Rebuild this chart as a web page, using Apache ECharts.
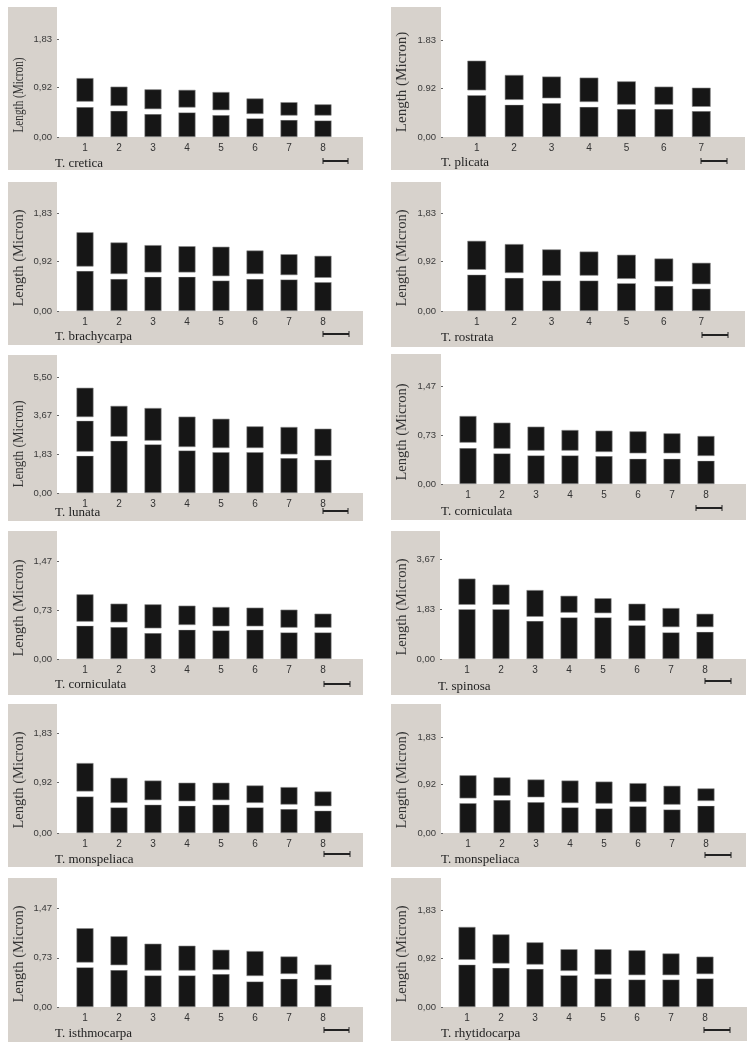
<!DOCTYPE html>
<html><head><meta charset="utf-8">
<script src="https://cdn.jsdelivr.net/npm/echarts@6/dist/echarts.min.js"></script>
<style>html,body{margin:0;padding:0;background:#fff}#c{width:756px;height:1052px}</style>
</head><body><div id="c"></div>
<script>
// Each chromosome: boundaries of its segments from the base upward
// [top of lower arm, bottom of upper arm, top of chromosome] (lunata #1 has a second constriction)
const cretica      = [[0.56,0.66,1.10],[0.49,0.58,0.94],[0.43,0.52,0.89],[0.46,0.55,0.88],[0.41,0.50,0.84],[0.35,0.43,0.72],[0.32,0.40,0.65],[0.31,0.40,0.61]];
const plicata      = [[0.79,0.88,1.44],[0.61,0.70,1.17],[0.64,0.73,1.14],[0.57,0.66,1.12],[0.53,0.61,1.05],[0.53,0.61,0.95],[0.49,0.57,0.93]];
const brachycarpa  = [[0.75,0.83,1.47],[0.60,0.69,1.28],[0.64,0.72,1.23],[0.64,0.72,1.21],[0.57,0.65,1.20],[0.60,0.69,1.13],[0.59,0.67,1.06],[0.54,0.62,1.03]];
const rostrata     = [[0.68,0.77,1.31],[0.62,0.71,1.25],[0.57,0.66,1.15],[0.57,0.66,1.11],[0.52,0.60,1.05],[0.47,0.55,0.98],[0.42,0.50,0.90]];
const lunata       = [[1.77,1.96,3.43,3.60,4.99],[2.48,2.67,4.13],[2.31,2.48,4.03],[2.02,2.18,3.62],[1.94,2.13,3.52],[1.94,2.13,3.16],[1.66,1.83,3.13],[1.58,1.75,3.05]];
const corniculataA = [[0.54,0.62,1.02],[0.46,0.53,0.92],[0.43,0.50,0.86],[0.43,0.50,0.81],[0.42,0.48,0.80],[0.38,0.46,0.79],[0.38,0.46,0.76],[0.35,0.42,0.72]];
const corniculataB = [[0.50,0.56,0.97],[0.48,0.55,0.83],[0.39,0.46,0.82],[0.44,0.51,0.80],[0.43,0.49,0.78],[0.44,0.49,0.77],[0.40,0.47,0.74],[0.40,0.47,0.68]];
const spinosa      = [[1.83,1.99,2.95],[1.83,1.99,2.73],[1.40,1.55,2.53],[1.53,1.70,2.32],[1.53,1.68,2.23],[1.24,1.40,2.03],[0.98,1.17,1.87],[1.00,1.17,1.66]];
const monspeliacaA = [[0.67,0.76,1.28],[0.47,0.55,1.01],[0.52,0.60,0.96],[0.50,0.58,0.92],[0.52,0.60,0.92],[0.47,0.55,0.87],[0.44,0.52,0.84],[0.41,0.49,0.76]];
const monspeliacaB = [[0.57,0.66,1.10],[0.63,0.71,1.06],[0.59,0.68,1.02],[0.49,0.57,1.00],[0.47,0.56,0.98],[0.51,0.59,0.95],[0.45,0.54,0.90],[0.52,0.61,0.85]];
const isthmocarpa  = [[0.59,0.66,1.17],[0.55,0.62,1.05],[0.47,0.54,0.94],[0.47,0.54,0.91],[0.49,0.55,0.85],[0.38,0.46,0.83],[0.42,0.49,0.75],[0.33,0.40,0.63]];
const rhytidocarpa = [[0.80,0.89,1.51],[0.74,0.82,1.37],[0.72,0.80,1.22],[0.60,0.68,1.09],[0.54,0.61,1.09],[0.52,0.60,1.07],[0.52,0.60,1.01],[0.54,0.62,0.95]];

const species = ['T. cretica','T. plicata','T. brachycarpa','T. rostrata','T. lunata','T. corniculata',
                 'T. corniculata','T. spinosa','T. monspeliaca','T. monspeliaca','T. isthmocarpa','T. rhytidocarpa'];
const panelData = [cretica, plicata, brachycarpa, rostrata, lunata, corniculataA,
                   corniculataB, spinosa, monspeliacaA, monspeliacaB, isthmocarpa, rhytidocarpa];

// y tick values and labels
const ticks183 = [0, 0.92, 1.83];  const labels183 = ['0,00','0,92','1,83'];
const labels183dot = ['0,00','0.92','1.83'];
const ticks147 = [0, 0.73, 1.47];  const labels147 = ['0,00','0,73','1,47'];
const ticks550 = [0, 1.83, 3.67, 5.50]; const labels550 = ['0,00','1,83','3,67','5,50'];
const ticks367 = [0, 1.83, 3.67];  const labels367 = ['0,00','1,83','3,67'];
const yAxisName = 'Length (Micron)';

const panelTicks = [
  [ticks183, labels183],[ticks183, labels183dot],[ticks183, labels183],[ticks183, labels183],
  [ticks550, labels550],[ticks147, labels147],[ticks147, labels147],[ticks367, labels367],
  [ticks183, labels183],[ticks183, labels183],[ticks147, labels147],[ticks183, labels183]
];

// layout: x0, x1, panelTop, stripRight, tickMaxY, zeroY, bottom, gridLeft, gridWidth
const layout = [
  [8,363,7,57,39,137,170,68,272],
  [391,745,7,441,40,137,170,458,262],
  [8,363,182,57,213,311,345,68,272],
  [391,745,182,441,213,311,347,458,262],
  [8,363,355,57,377,493,521,68,272],
  [391,746,354,441,386,484,520,451,272],
  [8,363,531,57,561,659,695,68,272],
  [391,746,531,440,559,659,695,450,272],
  [8,363,704,57,733,833,867,68,272],
  [391,746,704,441,737,833,867,451,272],
  [8,363,878,57,908,1007,1042,68,272],
  [391,747,878,441,910,1007,1041,450,272]
];
// species label: x, y, fontSize
const labelPos = [
  [55,164,13],[441,163,13],[55,337,13],[441,338,13],
  [55,513,13],[441,512,13],[55,685,13],[438,687,13],
  [55,860,13],[441,860,13],[55,1034,13],[441,1034,13]
];
// scale bar: x1, x2, y
const scaleBars = [
  [323,348,161],[701,727,161],[323,349,334],[702,728,335],[323,348,511],[696,722,508],
  [324,350,684],[705,731,681],[324,350,854],[705,731,855],[324,349,1030],[704,730,1030]
];
// y name: cx, cy, fontSize, length scale
const yNamePos = [
  [19,95,14,0.8],[402,82,15,1],[19.5,258,14.5,1],[402,258,14.5,1],[19,444,14,0.93],[402,432,14.5,1],
  [19.5,608,14.5,1],[402,607,14.5,1],[19.5,780,14.5,1],[402,780,14.5,1],[19.5,954,14.5,1],[402,954,14.5,1]
];

const GREY = '#d7d2cc';
const BAR = '#161616';
const SANS = "'Liberation Sans', Arial, sans-serif";
const SERIF = "'Liberation Serif', 'Times New Roman', serif";

const grids = [], xAxes = [], yAxes = [], series = [], graphics = [];

panelData.forEach((bands, i) => {
  const [x0, x1, top, strip, tickY, zeroY, bottom, gl, gw] = layout[i];
  const [tv, tl] = panelTicks[i];
  // grey L-shaped frame
  graphics.push({type:'rect', z:-10, shape:{x:x0, y:top, width:strip-x0, height:bottom-top}, style:{fill:GREY}});
  graphics.push({type:'rect', z:-10, shape:{x:x0, y:zeroY, width:x1-x0, height:bottom-zeroY}, style:{fill:GREY}});
  // species label
  const [lx, ly, lfs] = labelPos[i];
  graphics.push({type:'text', x:lx, y:ly, style:{text:species[i], fontFamily:SERIF, fontSize:lfs, fill:'#222', align:'left', verticalAlign:'middle'}});
  // y axis name
  const [nx, ny, nfs, nsc] = yNamePos[i];
  graphics.push({type:'text', x:nx, y:ny, rotation:Math.PI/2, scaleX:nsc, style:{text:yAxisName, fontFamily:SERIF, fontSize:nfs, fill:'#333', align:'center', verticalAlign:'middle'}});
  // scale bar
  const [sx1, sx2, sy] = scaleBars[i];
  graphics.push({type:'line', shape:{x1:sx1, y1:sy, x2:sx2, y2:sy}, style:{stroke:'#222', lineWidth:2}});
  graphics.push({type:'line', shape:{x1:sx1, y1:sy-3, x2:sx1, y2:sy+3}, style:{stroke:'#222', lineWidth:1}});
  graphics.push({type:'line', shape:{x1:sx2, y1:sy-3, x2:sx2, y2:sy+3}, style:{stroke:'#222', lineWidth:1}});

  grids.push({left:gl, top:tickY, width:gw, height:zeroY-tickY, containLabel:false});
  const cats = bands.map((b, k) => String(k + 1));
  xAxes.push({type:'category', gridIndex:i, data:cats,
    axisLine:{show:false}, axisTick:{show:false}, splitLine:{show:false},
    axisLabel:{fontSize:10, color:'#333', margin:6, fontFamily:SANS}});
  const tickMax = tv[tv.length - 1];
  yAxes.push({type:'value', gridIndex:i, min:0, max:tickMax, offset:gl-strip,
    axisLine:{show:false}, splitLine:{show:false},
    axisTick:{show:true, inside:true, length:2, customValues:tv, lineStyle:{color:'#666'}},
    axisLabel:{customValues:tv, fontSize:9.5, color:'#3a3a3a', margin:5, fontFamily:SANS,
      formatter: v => { let best = 0; tv.forEach((t, j) => { if (Math.abs(t - v) < Math.abs(tv[best] - v)) best = j; }); return tl[best]; }}});
  const nSeg = Math.max(...bands.map(b => b.length));
  for (let k = 0; k < nSeg; k++) {
    const vals = bands.map(b => k < b.length ? +(b[k] - (k ? b[k-1] : 0)).toFixed(3) : '-');
    const isGap = k % 2 === 1;
    series.push({type:'bar', xAxisIndex:i, yAxisIndex:i, stack:'p' + i, barWidth:'50%',
      data:vals, silent:true,
      itemStyle: isGap ? {color:'#ffffff'} : {color:BAR, borderColor:'#8a8a8a', borderWidth:0.6}});
  }
});

const chart = echarts.init(document.getElementById('c'), null, {renderer:'canvas'});
chart.setOption({
  animation:false,
  backgroundColor:'#ffffff',
  grid:grids, xAxis:xAxes, yAxis:yAxes, series:series,
  graphic:graphics
});
</script></body></html>
